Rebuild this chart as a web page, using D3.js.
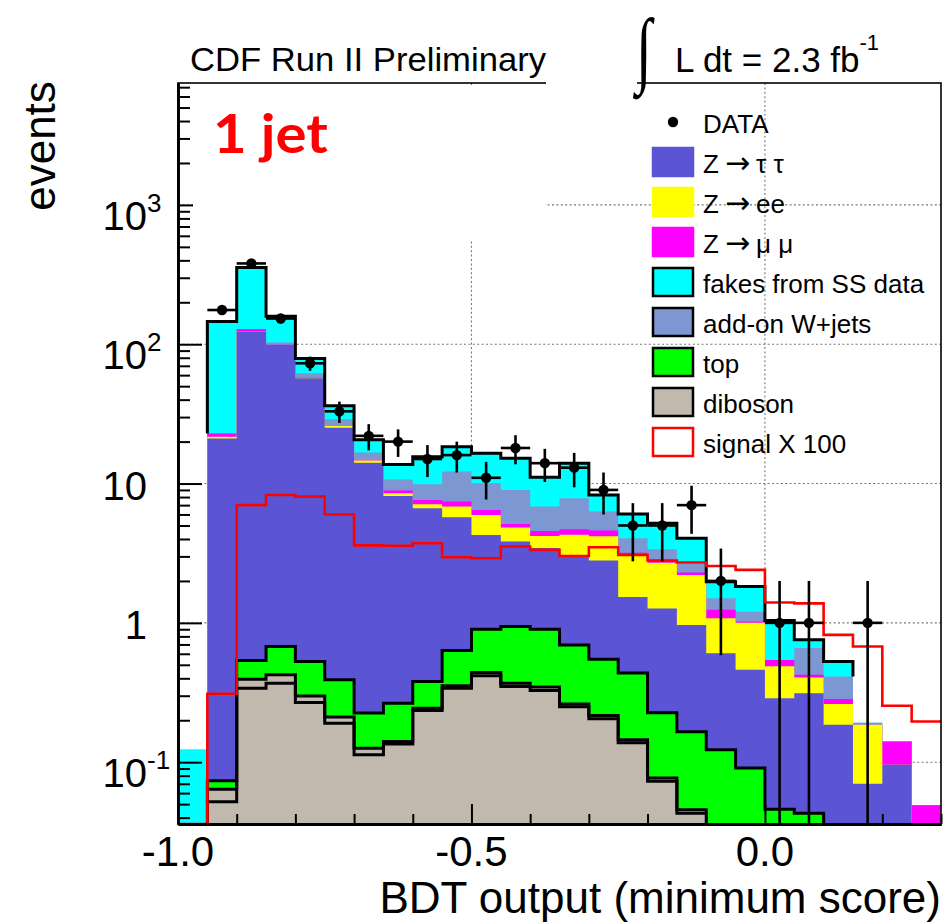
<!DOCTYPE html>
<html>
<head>
<meta charset="utf-8">
<script src="https://cdn.jsdelivr.net/npm/d3@7"></script>
<style>
  html, body { margin: 0; padding: 0; background: #fff; }
  svg { display: block; }
  text { font-family: "Liberation Sans", Arial, Helvetica, sans-serif; fill: #000; }
</style>
</head>
<body>
<svg id="chart" width="943" height="924"></svg>
<script>
// ---- binning: 26 bins of 0.05 in BDT output, from -1.0 to 0.3 ----
const binLow = -1.0;
const binWidth = 0.05;
const nBins = 26;

// ---- background expectations per bin (events), stacked bottom to top ----
const dibosonA = [0, 0.052, 0.340, 0.369, 0.268, 0.190, 0.113, 0.135, 0.235, 0.340, 0.417, 0.349, 0.327, 0.250, 0.205, 0.138, 0.073, 0.043, 0, 0, 0, 0, 0, 0, 0, 0];
const dibosonB = [0, 0.012, 0.054, 0.055, 0.031, 0.021, 0.013, 0.006, 0.009, 0.013, 0.023, 0.020, 0.019, 0.012, 0.011, 0.007, 0.004, 0.0026, 0, 0, 0, 0, 0, 0, 0, 0];
const topQuark = [0, 0.0096, 0.143, 0.252, 0.228, 0.179, 0.099, 0.124, 0.135, 0.280, 0.461, 0.572, 0.555, 0.433, 0.333, 0.291, 0.149, 0.120, 0.123, 0.091, 0.046, 0.043, 0, 0, 0, 0];
const zTauTau  = [0, 21.0, 123.5, 98.0, 56.4, 24.8, 13.9, 7.89, 6.27, 5.10, 3.38, 2.89, 2.55, 2.27, 2.25, 1.10, 1.04, 0.80, 0.483, 0.37, 0.242, 0.27, 0.186, 0.070, 0.096, 0];
const zEE      = [0, 0.6, 0.3, 0.2, 0.2, 0.8, 0.5, 0.37, 0.45, 1.10, 1.67, 1.0, 0.76, 1.32, 1.38, 1.48, 1.44, 1.24, 0.474, 0.54, 0.20, 0.092, 0.076, 0.116, 0, 0];
const zMuMu    = [0, 1.2, 3.5, 0.3, 0.3, 0.1, 0.1, 0.38, 0.53, 0.59, 0.52, 0.30, 0.36, 0.42, 0.42, 0.17, 0.12, 0.09, 0.16, 0.02, 0.053, 0.019, 0.022, 0, 0.045, 0.049];
const wJets    = [0, 0, 0, 3.8, 4.4, 2.8, 2.0, 1.8, 2.27, 4.78, 3.58, 3.87, 2.26, 3.15, 1.70, 0.86, 0.55, 0.35, 0.26, 0.18, 0, 0.235, 0.128, 0.006, 0, 0];
const fakesSS  = [0.124, 123, 228, 56, 17.2, 7.3, 3.9, 3.0, 5.7, 6.2, 6.45, 6.2, 4.27, 6.15, 1.98, 2.0, 1.81, 1.40, 0.47, 0.62, 0.50, 0.096, 0.116, 0, 0, 0];

// ---- signal (scaled by 100) and observed counts ----
const signalX100 = [0, 0.31, 7.0, 8.28, 8.05, 6.0, 3.6, 3.58, 3.73, 2.96, 2.91, 3.53, 3.34, 3.02, 3.49, 3.07, 2.8, 2.71, 2.56, 2.40, 1.40, 1.38, 0.82, 0.676, 0.254, 0.196];
const dataCounts = [0, 176, 380, 153, 73, 33, 22, 20, 15, 16, 11, 18, 14, 13, 9, 5, 5, 7, 2, 0, 1, 1, 0, 1, 0, 0];

// ---- axis labels ----
const xLabelValues = [-1.0, -0.5, 0.0];
const xLabelTexts = ["-1.0", "-0.5", "0.0"];
const yLabelValues = [0.1, 1, 10, 100, 1000];
const yLabelBase = ["10", "1", "10", "10", "10"];
const yLabelExp = ["-1", "", "", "2", "3"];

// ---- legend: text before the arrow, text after it ----
const legendHead = ["DATA", "Z", "Z", "Z", "fakes from SS data", "add-on W+jets", "top", "diboson", "signal X 100"];
const legendTail = ["", "\u03C4 \u03C4", "ee", "\u03BC \u03BC", "", "", "", "", ""];

// ---- styling ----
const layerStyle = {
  dibosonA: { fill: "#c1b8ae", outline: true },
  dibosonB: { fill: "#c1b8ae", outline: true },
  topQuark: { fill: "#00ff00", outline: true },
  zTauTau:  { fill: "#5b55d6", outline: false },
  zEE:      { fill: "#ffff00", outline: false },
  zMuMu:    { fill: "#ff00ff", outline: false },
  wJets:    { fill: "#7d97d2", outline: false },
  fakesSS:  { fill: "#00ffff", outline: true }
};
const stackKeys = ["dibosonA", "dibosonB", "topQuark", "zTauTau", "zEE", "zMuMu", "wJets", "fakesSS"];
const columns = { dibosonA, dibosonB, topQuark, zTauTau, zEE, zMuMu, wJets, fakesSS };

// contours start at the second bin; the edge bin is drawn fill-only
const OUTLINE_FROM = 1;

const yMin = 0.036, yMax = 7500;
const L = 178, R = 941, T = 83, B = 824;

const svg = d3.select("#chart");
const x = d3.scaleLinear().domain([binLow, binLow + nBins * binWidth]).range([L, R]);
const y = d3.scaleLog().domain([yMin, yMax]).range([B, T]);
const Y = v => y(Math.min(Math.max(v, yMin), yMax));
const edges = d3.range(nBins + 1).map(i => binLow + i * binWidth);

// ---- grid ----
const grid = svg.append("g").attr("stroke", "#777").attr("stroke-width", 1.1).attr("stroke-dasharray", "2,2.4");
yLabelValues.forEach(v => grid.append("line").attr("x1", L).attr("x2", R).attr("y1", y(v)).attr("y2", y(v)));
[-0.5, 0.0].forEach(v => grid.append("line").attr("x1", x(v)).attr("x2", x(v)).attr("y1", T).attr("y2", B));

// ---- stacked histograms ----
const rows = d3.range(nBins).map(i => {
  const r = {};
  stackKeys.forEach(k => { r[k] = columns[k][i]; });
  return r;
});
const series = d3.stack().keys(stackKeys)(rows);

const stepArea = d3.area()
  .x(d => x(d.x))
  .y0(B)
  .y1(d => Y(d.hi))
  .curve(d3.curveStepAfter);

const fills = svg.append("g");
for (let k = series.length - 1; k >= 0; k--) {
  const s = series[k];
  const pts = edges.map((e, i) => ({ x: e, hi: s[Math.min(i, nBins - 1)][1] }));
  fills.append("path")
    .attr("d", stepArea(pts))
    .attr("fill", layerStyle[s.key].fill)
    .attr("stroke", "none");
}

// black contours of the outlined components
const outlines = svg.append("g").attr("fill", "none").attr("stroke", "#000")
  .attr("stroke-width", 3).attr("stroke-linejoin", "miter");
series.forEach(s => {
  if (!layerStyle[s.key].outline) return;
  const own = columns[s.key];
  let i = OUTLINE_FROM;
  while (i < nBins) {
    if (own[i] > 0) {
      let j = i;
      while (j + 1 < nBins && own[j + 1] > 0) j++;
      const p = d3.path();
      p.moveTo(x(edges[i]), Y(s[i][0]));
      p.lineTo(x(edges[i]), Y(s[i][1]));
      for (let b = i; b <= j; b++) {
        p.lineTo(x(edges[b + 1]), Y(s[b][1]));
        if (b < j) p.lineTo(x(edges[b + 1]), Y(s[b + 1][1]));
      }
      p.lineTo(x(edges[j + 1]), Y(s[j][0]));
      outlines.append("path").attr("d", p.toString());
      i = j + 1;
    } else {
      i++;
    }
  }
});

// ---- signal x 100 ----
const stepLine = d3.line().x(d => x(d.x)).y(d => Y(d.v)).curve(d3.curveStepAfter);
const sigPts = edges.map((e, i) => ({ x: e, v: signalX100[Math.min(i, nBins - 1)] }));
svg.append("path").attr("d", stepLine(sigPts))
  .attr("fill", "none").attr("stroke", "#ff0000").attr("stroke-width", 2.6);

// ---- data points with Poisson errors ----
const dataG = svg.append("g");
dataCounts.forEach((n, i) => {
  if (n <= 0) return;
  const cx = x(edges[i] + binWidth / 2);
  const err = Math.sqrt(n);
  dataG.append("line").attr("x1", x(edges[i])).attr("x2", x(edges[i + 1]))
    .attr("y1", Y(n)).attr("y2", Y(n)).attr("stroke", "#000").attr("stroke-width", 2.6);
  dataG.append("line").attr("x1", cx).attr("x2", cx)
    .attr("y1", Y(n + err)).attr("y2", Y(n - err)).attr("stroke", "#000").attr("stroke-width", 2.6);
  dataG.append("circle").attr("cx", cx).attr("cy", Y(n)).attr("r", 5.2).attr("fill", "#000");
});

// ---- frame and axes ----
svg.append("rect").attr("x", L).attr("y", T).attr("width", R - L).attr("height", B - T)
  .attr("fill", "none").attr("stroke", "#000").attr("stroke-width", 1.6);

const yTicks = y.ticks().filter(t => t >= yMin && t <= yMax);
const isDecade = t => Math.abs(Math.log10(t) - Math.round(Math.log10(t))) < 1e-9;
const yMajor = yTicks.filter(isDecade);
const yMinor = yTicks.filter(t => !isDecade(t));

const styleAxis = g => {
  g.selectAll(".tick line").attr("stroke", "#000").attr("stroke-width", 2);
  g.selectAll(".domain").attr("stroke", "#000").attr("stroke-width", 2.8);
};

svg.append("g").attr("transform", `translate(${L},0)`)
  .call(d3.axisLeft(y).tickValues(yMinor).tickSize(-12).tickSizeOuter(0).tickFormat(""))
  .call(styleAxis);
svg.append("g").attr("transform", `translate(${L},0)`)
  .call(d3.axisLeft(y).tickValues(yMajor).tickSize(-24).tickSizeOuter(0).tickFormat(""))
  .call(styleAxis);

const xTicks = x.ticks(13);
const isHalf = t => Math.abs(t * 2 - Math.round(t * 2)) < 1e-9;
svg.append("g").attr("transform", `translate(0,${B})`)
  .call(d3.axisBottom(x).tickValues(xTicks.filter(t => !isHalf(t))).tickSize(-10).tickSizeOuter(0).tickFormat(""))
  .call(styleAxis);
svg.append("g").attr("transform", `translate(0,${B})`)
  .call(d3.axisBottom(x).tickValues(xTicks.filter(isHalf)).tickSize(-20).tickSizeOuter(0).tickFormat(""))
  .call(styleAxis);

// white panels behind the headline texts
svg.append("rect").attr("x", 193).attr("y", 86).attr("width", 352).attr("height", 155).attr("fill", "#fff");
svg.append("rect").attr("x", 546).attr("y", 79).attr("width", 91).attr("height", 7).attr("fill", "#fff");

// ---- tick labels ----
xLabelValues.forEach((v, i) => {
  svg.append("text").attr("x", x(v)).attr("y", 866).attr("text-anchor", "middle")
    .attr("font-size", 42).text(xLabelTexts[i]);
});
yLabelValues.forEach((v, i) => {
  const ty = y(v);
  const hasExp = yLabelExp[i] !== "";
  svg.append("text").attr("x", 147).attr("y", ty + (hasExp ? 25 : 16)).attr("text-anchor", "end")
    .attr("font-size", 40).text(yLabelBase[i]);
  if (hasExp) {
    svg.append("text").attr("x", 147).attr("y", ty + 7).attr("text-anchor", "start")
      .attr("font-size", 26).text(yLabelExp[i]);
  }
});

// ---- axis titles ----
svg.append("text").attr("x", R).attr("y", 913).attr("text-anchor", "end")
  .attr("font-size", 44).text("BDT output (minimum score)");
svg.append("text").attr("transform", "translate(55,146) rotate(-90)").attr("text-anchor", "middle")
  .attr("font-size", 44).text("events");

// ---- headline ----
svg.append("text").attr("x", 190).attr("y", 71).attr("font-size", 34)
  .attr("textLength", 356).attr("lengthAdjust", "spacingAndGlyphs").text("CDF Run II Preliminary");
svg.append("text").attr("transform", "translate(636,77) scale(0.8,1.17)")
  .style("font-family", "'Liberation Serif', 'DejaVu Serif', serif").attr("font-size", 72).text("\u222B");
const lumi = svg.append("text").attr("x", 675).attr("y", 72).attr("font-size", 35);
lumi.append("tspan").text("L dt = 2.3 fb");
lumi.append("tspan").attr("dy", -22).attr("font-size", 22).text("-1");

svg.append("text").attr("x", 213).attr("y", 153)
  .style("font-family", "Lato, 'Open Sans', sans-serif").style("font-weight", 700)
  .attr("font-size", 54).style("fill", "#ff0000")
  .attr("textLength", 115).attr("lengthAdjust", "spacingAndGlyphs").text("1 jet");

// ---- legend ----
const legend = svg.append("g");
const legendFill = [null, "zTauTau", "zEE", "zMuMu", "fakesSS", "wJets", "topQuark", "dibosonA", "signal"];
legendHead.forEach((lab, k) => {
  const ry = 122 + 40 * k;
  const key = legendFill[k];
  if (key === null) {
    legend.append("circle").attr("cx", 673).attr("cy", ry).attr("r", 5.2).attr("fill", "#000");
  } else if (key === "signal") {
    legend.append("rect").attr("x", 653).attr("y", ry - 14).attr("width", 40).attr("height", 28)
      .attr("fill", "#fff").attr("stroke", "#ff0000").attr("stroke-width", 2.5);
  } else {
    const framed = ["fakesSS", "wJets", "topQuark", "dibosonA"].includes(key);
    legend.append("rect").attr("x", 653).attr("y", ry - 14).attr("width", 40).attr("height", 28)
      .attr("fill", layerStyle[key].fill)
      .attr("stroke", framed ? "#000" : layerStyle[key].fill).attr("stroke-width", 2.5);
  }
  const t = legend.append("text").attr("x", 703).attr("y", ry + 11).attr("font-size", 26);
  t.append("tspan").text(lab);
  if (legendTail[k] !== "") {
    t.append("tspan").attr("dx", 6).style("font-family", "'DejaVu Sans', sans-serif")
      .attr("font-size", 30).text("\u2192");
    t.append("tspan").attr("dx", 6).text(legendTail[k]);
  }
});
</script>
</body>
</html>
